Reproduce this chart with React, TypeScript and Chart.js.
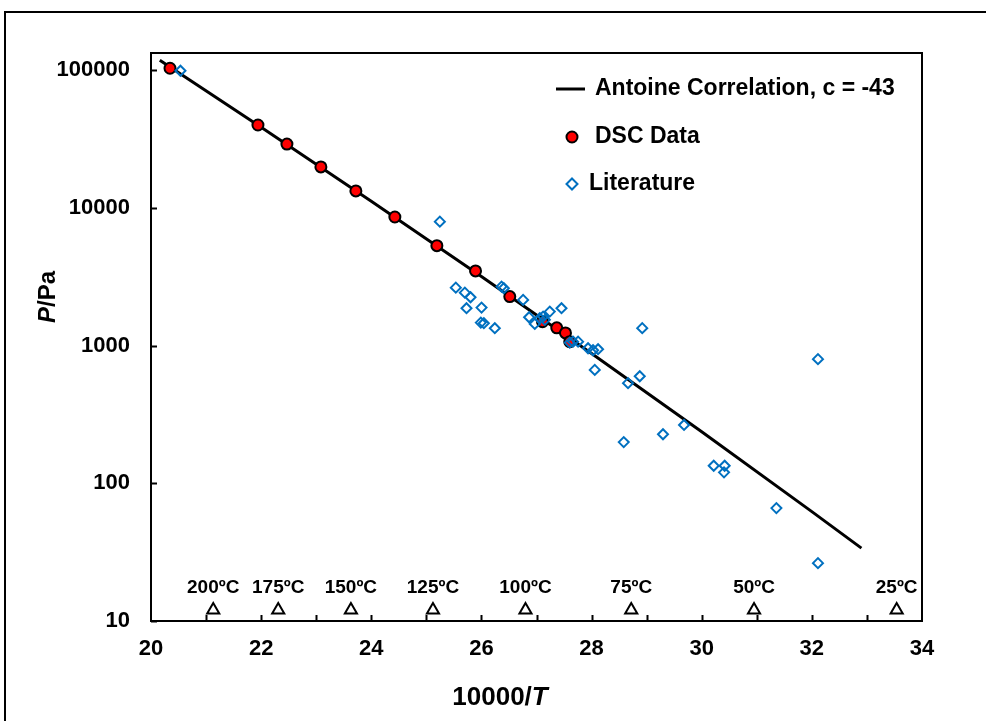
import React, { useEffect, useRef } from "react";
import { Chart, registerables } from "chart.js";

Chart.register(...registerables);

// ---- data ----
const antoineX = [20.16, 22, 24, 26, 28, 30, 32, 32.9];
const antoineP = [117800, 38360, 11150, 3166, 876, 236.6, 62.2, 33.8];

const dscX = [20.345, 21.942, 22.468, 23.085, 23.72, 24.428, 25.191, 25.893, 26.515, 27.109, 27.368, 27.526, 27.604];
const dscP = [103000, 39900, 29000, 19800, 13250, 8570, 5310, 3480, 2265, 1490, 1343, 1234, 1067];

const litX = [
  20.535, 25.245, 25.535, 25.699, 25.802, 25.729, 26.002, 25.989, 26.044, 26.243,
  26.365, 26.407, 26.757, 26.866, 26.969, 27.06, 27.12, 27.152, 27.241, 27.454,
  27.604, 27.664, 27.755, 27.936, 28.027, 28.118, 28.058, 28.662, 28.875, 28.92,
  28.584, 29.297, 29.679, 30.218, 30.417, 30.405, 31.356, 32.111, 32.111,
];
const litP = [
  98800, 7930, 2630, 2420, 2240, 1866, 1885, 1466, 1452, 1336,
  2677, 2608, 2143, 1603, 1435, 1578, 1622, 1535, 1763, 1866,
  1050, 1067, 1067, 955, 924, 940, 665, 533, 598, 1337,
  199, 227, 265, 134, 134, 120, 66, 796, 26.3,
];

const tempLabels = ["200ºC", "175ºC", "150ºC", "125ºC", "100ºC", "75ºC", "50ºC", "25ºC"];
const tempX = [21.13, 22.31, 23.63, 25.12, 26.8, 28.72, 30.95, 33.54];
const tempMarkerP = [12, 12, 12, 12, 12, 12, 12, 12];

const xTicks = [20, 22, 24, 26, 28, 30, 32, 34];
const xMinorTicks = [21, 22, 23, 24, 25, 26, 27, 28, 29, 30, 31, 32, 33];
const yTicks = [10, 100, 1000, 10000, 100000];

const legendLabels = ["Antoine Correlation, c = -43", "DSC Data", "Literature"];
const xTitleMain = "10000/";
const xTitleItalic = "T";
const yTitleItalic = "P";
const yTitleMain = "/Pa";

const FONT = "'Liberation Sans', Arial, sans-serif";
const BLUE = "#0070C0";
const RED = "#FF0000";

const decorPlugin = {
  id: "decor",
  beforeDraw(chart: any) {
    const ctx = chart.ctx;
    ctx.save();
    ctx.fillStyle = "#fff";
    ctx.fillRect(0, 0, chart.width, chart.height);
    ctx.strokeStyle = "#000";
    ctx.lineWidth = 2;
    ctx.beginPath();
    ctx.moveTo(5, chart.height + 5);
    ctx.lineTo(5, 12);
    ctx.lineTo(chart.width + 5, 12);
    ctx.stroke();
    ctx.restore();
  },
  afterDraw(chart: any) {
    const ctx = chart.ctx;
    const a = chart.chartArea;
    const xs = chart.scales.x;
    const ys = chart.scales.y;
    ctx.save();
    // plot frame
    ctx.strokeStyle = "#000";
    ctx.lineWidth = 2;
    ctx.strokeRect(a.left, a.top, a.right - a.left, a.bottom - a.top);
    // inside tick marks
    ctx.beginPath();
    for (const v of xMinorTicks) {
      const px = Math.round(xs.getPixelForValue(v)) + 0.5;
      ctx.moveTo(px, a.bottom);
      ctx.lineTo(px, a.bottom - 6);
    }
    for (const v of yTicks) {
      const py = Math.round(ys.getPixelForValue(v)) + 0.5;
      ctx.moveTo(a.left, py);
      ctx.lineTo(a.left + 6, py);
    }
    ctx.stroke();

    // temperature labels
    ctx.fillStyle = "#000";
    ctx.font = `bold 19px ${FONT}`;
    ctx.textAlign = "center";
    ctx.textBaseline = "alphabetic";
    tempLabels.forEach((t, i) => {
      ctx.fillText(t, xs.getPixelForValue(tempX[i]), 593);
    });

    // legend
    ctx.textAlign = "left";
    ctx.textBaseline = "middle";
    ctx.font = `bold 23px ${FONT}`;
    ctx.lineWidth = 3;
    ctx.beginPath();
    ctx.moveTo(556, 89);
    ctx.lineTo(585, 89);
    ctx.stroke();
    ctx.fillText(legendLabels[0], 595, 89);

    ctx.beginPath();
    ctx.arc(572, 137, 5.5, 0, Math.PI * 2);
    ctx.fillStyle = RED;
    ctx.fill();
    ctx.lineWidth = 2;
    ctx.strokeStyle = "#000";
    ctx.stroke();
    ctx.fillStyle = "#000";
    ctx.fillText(legendLabels[1], 595, 137);

    ctx.beginPath();
    ctx.moveTo(572, 184 - 5.5);
    ctx.lineTo(572 + 5.5, 184);
    ctx.lineTo(572, 184 + 5.5);
    ctx.lineTo(572 - 5.5, 184);
    ctx.closePath();
    ctx.strokeStyle = BLUE;
    ctx.stroke();
    ctx.fillText(legendLabels[2], 589, 184);

    // x title
    ctx.textBaseline = "alphabetic";
    ctx.font = `bold 26px ${FONT}`;
    const w1 = ctx.measureText(xTitleMain).width;
    ctx.font = `italic bold 26px ${FONT}`;
    const w2 = ctx.measureText(xTitleItalic).width;
    const xStart = 500 - (w1 + w2) / 2;
    ctx.font = `bold 26px ${FONT}`;
    ctx.fillText(xTitleMain, xStart, 705);
    ctx.font = `italic bold 26px ${FONT}`;
    ctx.fillText(xTitleItalic, xStart + w1, 705);

    // y title
    ctx.translate(55, 297);
    ctx.rotate(-Math.PI / 2);
    ctx.font = `italic bold 24px ${FONT}`;
    const v1 = ctx.measureText(yTitleItalic).width;
    ctx.font = `bold 24px ${FONT}`;
    const v2 = ctx.measureText(yTitleMain).width;
    const yStart = -(v1 + v2) / 2;
    ctx.font = `italic bold 24px ${FONT}`;
    ctx.fillText(yTitleItalic, yStart, 0);
    ctx.font = `bold 24px ${FONT}`;
    ctx.fillText(yTitleMain, yStart + v1, 0);
    ctx.restore();
  },
};

export default function App() {
  const ref = useRef<HTMLCanvasElement>(null);
  useEffect(() => {
    if (!ref.current) return;
    const chart = new Chart(ref.current, {
      type: "scatter",
      data: {
        datasets: [
          {
            label: "Antoine",
            data: antoineX.map((x, i) => ({ x, y: antoineP[i] })),
            showLine: true,
            borderColor: "#000",
            borderWidth: 3,
            pointRadius: 0,
            order: 4,
          },
          {
            label: "DSC",
            data: dscX.map((x, i) => ({ x, y: dscP[i] })),
            pointStyle: "circle",
            pointRadius: 5.5,
            backgroundColor: RED,
            borderColor: "#000",
            borderWidth: 2,
            order: 3,
          },
          {
            label: "Literature",
            data: litX.map((x, i) => ({ x, y: litP[i] })),
            pointStyle: "rectRot",
            pointRadius: 5,
            backgroundColor: "rgba(0,0,0,0)",
            borderColor: BLUE,
            borderWidth: 2,
            order: 2,
          },
          {
            label: "Temps",
            data: tempX.map((x, i) => ({ x, y: tempMarkerP[i] })),
            pointStyle: "triangle",
            pointRadius: 7,
            backgroundColor: "rgba(0,0,0,0)",
            borderColor: "#000",
            borderWidth: 2,
            order: 1,
          },
        ],
      },
      options: {
        animation: false,
        responsive: false,
        layout: { padding: { top: 53, right: 64, left: 0, bottom: 0 } },
        plugins: { legend: { display: false }, tooltip: { enabled: false } },
        scales: {
          x: {
            type: "linear",
            min: 20,
            max: 34,
            afterBuildTicks: (s: any) => {
              s.ticks = xTicks.map((v) => ({ value: v }));
            },
            afterFit: (s: any) => {
              s.height = 100;
            },
            grid: { display: false, drawTicks: false },
            border: { display: false },
            ticks: {
              color: "#000",
              padding: 15,
              maxRotation: 0,
              font: { family: FONT, size: 22, weight: "bold" },
              callback: (v: any) => String(v),
            },
          },
          y: {
            type: "logarithmic",
            min: 10,
            max: 132900,
            afterBuildTicks: (s: any) => {
              s.ticks = yTicks.map((v) => ({ value: v }));
            },
            afterFit: (s: any) => {
              s.width = 151;
            },
            grid: { display: false, drawTicks: false },
            border: { display: false },
            ticks: {
              color: "#000",
              padding: 21,
              font: { family: FONT, size: 22, weight: "bold" },
              callback: (v: any) => String(v),
            },
          },
        },
      },
      plugins: [decorPlugin],
    } as any);
    return () => chart.destroy();
  }, []);
  return (
    <div style={{ position: "absolute", left: 0, top: 0, width: 986, height: 721 }}>
      <canvas ref={ref} width={986} height={721} style={{ display: "block" }} />
    </div>
  );
}
